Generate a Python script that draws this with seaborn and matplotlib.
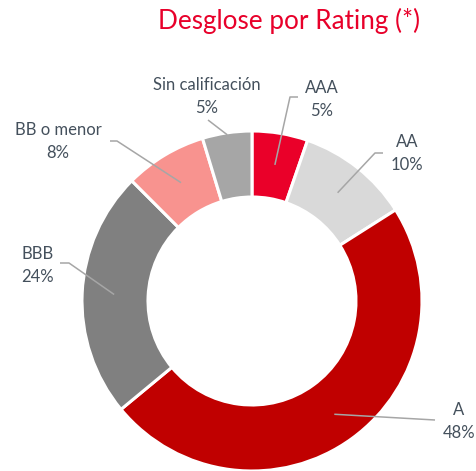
import numpy as np
import matplotlib
matplotlib.use("Agg")
import matplotlib.pyplot as plt
import seaborn as sns

# Data
categories = ["AAA", "AA", "A", "BBB", "BB o menor", "Sin calificación"]
values = [5.3, 10.7, 48.0, 23.5, 7.8, 4.7]
pct_labels = ["5%", "10%", "48%", "24%", "8%", "5%"]
colors = ["#EA0029", "#D9D9D9", "#C00000", "#808080", "#F8938F", "#A6A6A6"]
title = "Desglose por Rating (*)"

sns.set_theme(style="white")
plt.rcParams["font.family"] = ["Lato", "DejaVu Sans"]

W, H = 477, 471
fig = plt.figure(figsize=(W / 100, H / 100), dpi=100)
ax = fig.add_axes([0, 0, 1, 1])

cx, cy = 252, H - 301
R, ring = 170, 66
pal = sns.color_palette(colors)
wedges, _ = ax.pie(values, colors=pal, startangle=90, counterclock=False,
                   radius=R, center=(cx, cy),
                   wedgeprops=dict(width=ring, edgecolor="white", linewidth=2.2))
ax.set_xlim(0, W)
ax.set_ylim(0, H)
ax.set_aspect("equal")
ax.axis("off")

text_color = "#44505C"
line_color = "#A6A6A6"

# label layout: (label x, label y top-line from top), elbow points (from top), start radius
layout = {
    "AAA": dict(txt=(322, 88), elbow=[(298, 97), (290, 97)], r=138),
    "AA": dict(txt=(407, 142), elbow=[(383, 153), (375, 153)], r=138),
    "A": dict(txt=(459, 410), elbow=[(435, 420)], r=140),
    "BBB": dict(txt=(38, 254), elbow=[(60, 263), (69, 263)], r=138),
    "BB o menor": dict(txt=(58, 130), elbow=[(110, 141), (117, 141)], r=138),
    "Sin calificación": dict(txt=(207, 85), elbow=[(208, 120)], r=168),
}

for w, cat, pl in zip(wedges, categories, pct_labels):
    lay = layout[cat]
    ang = np.deg2rad((w.theta1 + w.theta2) / 2)
    sx = cx + lay["r"] * np.cos(ang)
    sy = cy + lay["r"] * np.sin(ang)
    pts = [(x, H - y) for x, y in lay["elbow"]] + [(sx, sy)]
    xs, ys = zip(*pts)
    ax.plot(xs, ys, color=line_color, lw=1.1, solid_capstyle="butt")
    tx, ty = lay["txt"]
    ax.text(tx, H - ty, cat, ha="center", va="center", fontsize=12, color=text_color)
    ax.text(tx, H - ty - 23, pl, ha="center", va="center", fontsize=12, color=text_color)

ax.text(289, H - 21, title, ha="center", va="center", fontsize=18.8, color="#E8002A")

fig.savefig("out.png", dpi=100)
